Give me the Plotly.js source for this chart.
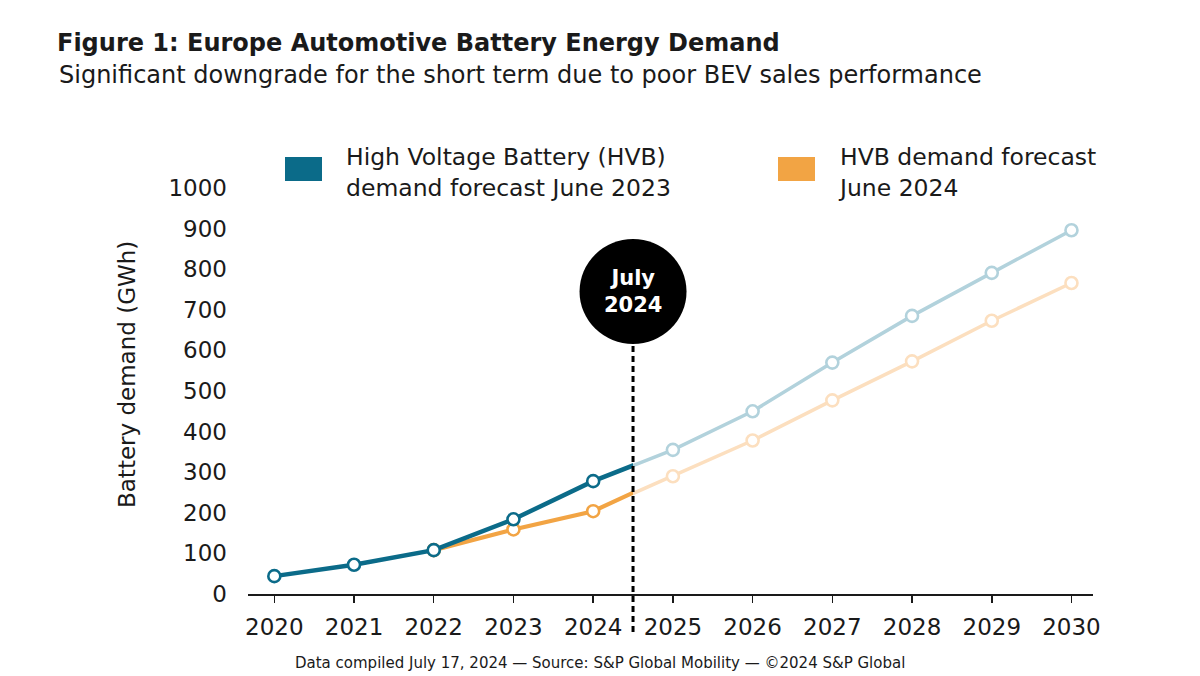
<!DOCTYPE html>
<html>
<head>
<meta charset="utf-8">
<script src="https://cdn.plot.ly/plotly-3.0.1.min.js"></script>
<style>
  html, body { margin: 0; padding: 0; background: #ffffff; }
  #chart { width: 1200px; height: 676px; }
</style>
</head>
<body>
<div id="chart"></div>
<script>
// ---- Data ----
const years = [2020, 2021, 2022, 2023, 2024, 2025, 2026, 2027, 2028, 2029, 2030];
const hvbForecast2023 = [44, 72, 108, 184, 278, 355, 450, 570, 685, 791, 896];
const hvbForecast2024 = [null, null, 108, 159, 204, 290, 378, 477, 573, 673, 766];
const seriesNames = ["High Voltage Battery (HVB)<br>demand forecast June 2023", "HVB demand forecast<br>June 2024"];
const yTickValues = [0, 100, 200, 300, 400, 500, 600, 700, 800, 900, 1000];
const xTickLabels = years.map(String);
const splitYear = 2024.5;              // "July 2024" divider
const splitLabel = "July<br>2024";

// ---- Layout constants ----
const W = 1200, H = 676;
const M = { l: 248, r: 107, t: 188, b: 82 };
const plotW = W - M.l - M.r, plotH = H - M.t - M.b;
const xMin = 2019.67, xMax = 2030.27;
const f = (splitYear - xMin) / (xMax - xMin);
const px = x => (x - M.l) / plotW;
const py = y => (H - M.b - y) / plotH;

const FONT = "DejaVu Sans, Open Sans, sans-serif";
const INK = "#1a1a1a";
const blue = "#0b6b89", orange = "#f2a444";
const blueLight = "#b2d2dc", orangeLight = "#fcdfbf";

function trace(y, color, xa, width, name) {
  return {
    x: years, y: y, xaxis: xa, yaxis: "y", type: "scatter", mode: "lines+markers",
    name: name, showlegend: false, connectgaps: false, cliponaxis: true, hoverinfo: "skip",
    line: { color: color, width: width },
    marker: { symbol: "circle", size: 12, color: "#ffffff", line: { color: color, width: 2.6 } }
  };
}

const data = [
  trace(hvbForecast2024, orangeLight, "x2", 3.5, seriesNames[1]),
  trace(hvbForecast2023, blueLight, "x2", 3.5, seriesNames[0]),
  trace(hvbForecast2024, orange, "x", 4.2, seriesNames[1]),
  trace(hvbForecast2023, blue, "x", 4.5, seriesNames[0])
];

const xCommon = {
  tickvals: years, ticktext: xTickLabels,
  showline: true, linecolor: INK, linewidth: 2,
  ticks: "outside", ticklen: 7, tickwidth: 1.5, tickcolor: INK,
  showgrid: false, zeroline: false, anchor: "y",
  tickfont: { family: FONT, size: 23, color: INK },
  ticklabelstandoff: 4, fixedrange: true
};

const layout = {
  width: W, height: H,
  margin: M,
  paper_bgcolor: "#ffffff", plot_bgcolor: "#ffffff",
  showlegend: false,
  title: {
    text: "<b>Figure 1: Europe Automotive Battery Energy Demand</b>",
    font: { family: FONT, size: 24, color: INK },
    xref: "container", yref: "container",
    x: 57 / W, xanchor: "left", y: 1 - 43 / H, yanchor: "middle"
  },
  xaxis: Object.assign({}, xCommon, { domain: [0, f], range: [xMin, splitYear] }),
  xaxis2: Object.assign({}, xCommon, { domain: [f, 1], range: [splitYear, xMax] }),
  yaxis: {
    range: [0, 1000], tickvals: yTickValues, ticktext: yTickValues.map(String),
    showgrid: false, zeroline: false, showline: false, ticks: "",
    ticklabelstandoff: 20, anchor: "x", fixedrange: true,
    tickfont: { family: FONT, size: 23, color: INK }
  },
  shapes: [
    // legend swatches
    { type: "rect", xref: "paper", yref: "paper", x0: px(285), x1: px(322), y0: py(181), y1: py(157),
      fillcolor: blue, line: { width: 0 } },
    { type: "rect", xref: "paper", yref: "paper", x0: px(778), x1: px(815), y0: py(181), y1: py(157),
      fillcolor: orange, line: { width: 0 } },
    // dashed divider
    { type: "line", xref: "paper", yref: "paper", x0: f, x1: f, y0: py(632), y1: py(346),
      line: { color: "#000000", width: 3, dash: "6px,4px" } },
    // circle badge
    { type: "circle", xref: "paper", yref: "paper",
      xsizemode: "pixel", ysizemode: "pixel", xanchor: f, yanchor: py(291.5),
      x0: -53.5, x1: 53.5, y0: -52.5, y1: 52.5,
      fillcolor: "#000000", line: { width: 0 } }
  ],
  annotations: [
    { xref: "paper", yref: "paper", x: px(57), y: py(75), xanchor: "left", yanchor: "middle",
      showarrow: false, align: "left",
      text: "Significant downgrade for the short term due to poor BEV sales performance",
      font: { family: FONT, size: 24, color: INK } },
    { xref: "paper", yref: "paper", x: px(344), y: py(172), xanchor: "left", yanchor: "middle",
      showarrow: false, align: "left", text: seriesNames[0],
      font: { family: FONT, size: 23.5, color: INK } },
    { xref: "paper", yref: "paper", x: px(836), y: py(172), xanchor: "left", yanchor: "middle",
      showarrow: false, align: "left", text: seriesNames[1],
      font: { family: FONT, size: 23.5, color: INK } },
    { xref: "paper", yref: "paper", x: px(127), y: py(375), xanchor: "center", yanchor: "middle",
      showarrow: false, textangle: -90, text: "Battery demand (GWh)",
      font: { family: FONT, size: 23, color: INK } },
    { xref: "paper", yref: "paper", x: f, y: py(291.5), xanchor: "center", yanchor: "middle",
      showarrow: false, align: "center", text: "<b>" + splitLabel + "</b>",
      font: { family: FONT, size: 21, color: "#ffffff" } },
    { xref: "paper", yref: "paper", x: px(600), y: py(663), xanchor: "center", yanchor: "middle",
      showarrow: false,
      text: "Data compiled July 17, 2024 — Source: S&P Global Mobility — ©2024 S&P Global",
      font: { family: FONT, size: 15, color: INK } }
  ]
};

Plotly.newPlot("chart", data, layout, { displayModeBar: false, staticPlot: true });
</script>
</body>
</html>
